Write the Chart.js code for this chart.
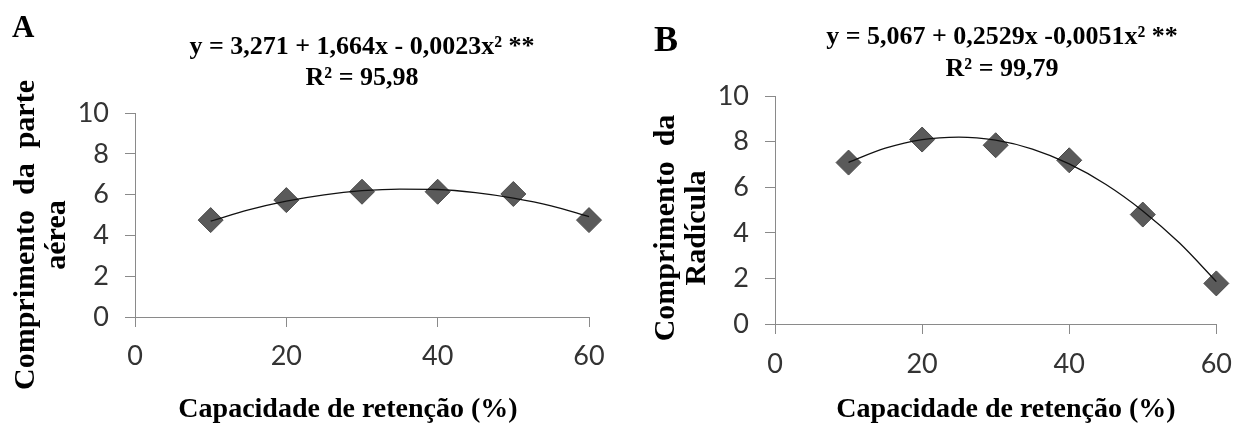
<!DOCTYPE html>
<html>
<head>
<meta charset="utf-8">
<script src="https://cdn.jsdelivr.net/npm/chart.js@4"></script>
<style>
  html, body { margin: 0; padding: 0; background: #fff; }
  .panel { position: absolute; top: 0; height: 426px; }
  #panelA { left: 0; width: 620px; }
  #panelB { left: 630px; width: 616px; }
</style>
</head>
<body>
<div class="panel" id="panelA"><canvas id="chartA"></canvas></div>
<div class="panel" id="panelB"><canvas id="chartB"></canvas></div>
<script>
// observed points
const retencao = [10, 20, 30, 40, 50, 60];
const parteAerea = [4.75, 5.73, 6.14, 6.14, 6.03, 4.75];
const radicula = [7.08, 8.09, 7.84, 7.18, 4.80, 1.78];

// fitted curves, every 5 %
const trendX = [10, 15, 20, 25, 30, 35, 40, 45, 50, 55, 60];
const trendA = [4.70, 5.25, 5.68, 5.99, 6.19, 6.27, 6.25, 6.10, 5.83, 5.45, 4.92];
const trendB = [7.09, 7.71, 8.09, 8.20, 8.06, 7.67, 7.02, 6.12, 4.96, 3.55, 1.86];

const xTicks = [0, 20, 40, 60];
const yTicks = [0, 2, 4, 6, 8, 10];

const xTitle = 'Capacidade de retenção (%)';
const titleA = ['y = 3,271 + 1,664x - 0,0023x² **', 'R² = 95,98'];
const titleB = ['y = 5,067 + 0,2529x -0,0051x² **', 'R² = 99,79'];
const yTitleA = ['Comprimento  da  parte', 'aérea'];
const yTitleB = ['Comprimento  da', 'Radícula'];

const axisColor = '#8a8a8a';
const tickColor = '#333333';
const serif = '"Liberation Serif", "Times New Roman", serif';

// draws panel letter, equation and axis titles
const panelText = {
    id: 'panelText',
    afterDraw(chart, args, opts) {
        const ctx = chart.ctx;
        ctx.save();
        ctx.fillStyle = '#000';
        ctx.textBaseline = 'alphabetic';

        ctx.textAlign = 'left';
        ctx.font = 'bold ' + opts.letterSize + 'px ' + serif;
        ctx.fillText(opts.letter, opts.letterX, opts.letterY);

        ctx.textAlign = 'center';
        ctx.font = 'bold 26px ' + serif;
        opts.title.forEach((line, i) => {
            ctx.fillText(line, opts.titleX, opts.titleY + i * opts.titleGap);
        });

        ctx.font = 'bold 28px ' + serif;
        ctx.fillText(xTitle, opts.xTitleX, opts.xTitleY);

        ctx.font = 'bold 30px ' + serif;
        ctx.textBaseline = 'middle';
        opts.yTitle.forEach((line, i) => {
            ctx.save();
            ctx.translate(opts.yTitleX[i], opts.yTitleY);
            ctx.rotate(-Math.PI / 2);
            ctx.fillText(line, 0, 0);
            ctx.restore();
        });
        ctx.restore();
    }
};

function makeChart(id, points, trend, geo, text) {
    const ctx = document.getElementById(id).getContext('2d');
    return new Chart(ctx, {
        type: 'line',
        data: {
            datasets: [
                {
                    data: trendX.map((x, i) => ({ x: x, y: trend[i] })),
                    borderColor: '#111',
                    borderWidth: 1.3,
                    pointRadius: 0,
                    cubicInterpolationMode: 'monotone',
                    clip: false
                },
                {
                    data: retencao.map((x, i) => ({ x: x, y: points[i] })),
                    showLine: false,
                    pointStyle: 'rectRot',
                    pointRadius: 12.5,
                    backgroundColor: '#5a5a5a',
                    borderColor: '#4a4a4a',
                    borderWidth: 1,
                    clip: false
                }
            ]
        },
        options: {
            responsive: true,
            maintainAspectRatio: false,
            animation: false,
            layout: { padding: { top: geo.top, right: geo.right, left: 0, bottom: 0 } },
            plugins: {
                legend: { display: false },
                tooltip: { enabled: false },
                panelText: text
            },
            scales: {
                x: {
                    type: 'linear',
                    min: 0,
                    max: 60,
                    afterBuildTicks: s => { s.ticks = xTicks.map(v => ({ value: v })); },
                    afterFit: s => { s.height = geo.bottom; },
                    grid: { drawOnChartArea: false, tickLength: 10, color: axisColor },
                    border: { color: axisColor, width: 1 },
                    ticks: { padding: geo.xPad, color: tickColor, font: { family: 'Lato', size: 27 } }
                },
                y: {
                    type: 'linear',
                    min: 0,
                    max: 10,
                    afterBuildTicks: s => { s.ticks = yTicks.map(v => ({ value: v })); },
                    afterFit: s => { s.width = geo.left; },
                    grid: { drawOnChartArea: false, tickLength: 10, color: axisColor },
                    border: { color: axisColor, width: 1 },
                    ticks: { padding: 16, color: tickColor, font: { family: 'Lato', size: 27 } }
                }
            }
        },
        plugins: [panelText]
    });
}

makeChart('chartA', parteAerea, trendA,
    { left: 135, right: 31, top: 113, bottom: 109, xPad: 13 },
    {
        letter: 'A', letterSize: 31, letterX: 12, letterY: 37,
        title: titleA, titleX: 362, titleY: 54, titleGap: 31,
        xTitleX: 348, xTitleY: 417,
        yTitle: yTitleA, yTitleX: [26, 57], yTitleY: 235
    });

makeChart('chartB', radicula, trendB,
    { left: 145, right: 24, top: 96, bottom: 102, xPad: 14 },
    {
        letter: 'B', letterSize: 36, letterX: 24, letterY: 51,
        title: titleB, titleX: 372, titleY: 44, titleGap: 32,
        xTitleX: 376, xTitleY: 417,
        yTitle: yTitleB, yTitleX: [36, 67], yTitleY: 228
    });
</script>
</body>
</html>
